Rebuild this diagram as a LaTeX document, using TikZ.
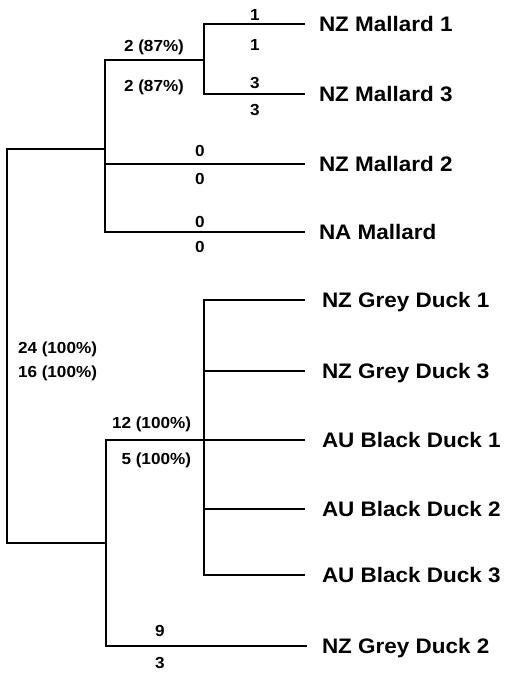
\documentclass[tikz,border=0pt]{standalone}
\usepackage{fontspec}
\setmainfont{Liberation Sans}
\newfontfamily\labfont[FakeStretch=1.07]{Liberation Sans}
\begin{document}
\begin{tikzpicture}[x=1pt,y=-1pt,line width=2pt,
  tiplab/.style={anchor=base west,inner sep=0pt,font=\fontsize{21}{21}\selectfont\labfont\bfseries},
  brlab/.style={anchor=base,inner sep=0pt,font=\fontsize{16}{16}\selectfont\labfont\bfseries},
  branch/.style={line width=2pt,line join=miter}]
\useasboundingbox (0,0) rectangle (508,673);
% tree nodes
\coordinate (R) at (7,149);
\coordinate (A) at (105,149);
\coordinate (C) at (106,543);
\coordinate (B) at (204,60);
\coordinate (D) at (204,440);
% tip ends
\coordinate (e1) at (305,24);
\coordinate (e2) at (305,94);
\coordinate (e3) at (305,164);
\coordinate (e4) at (305,232);
\coordinate (e5) at (305,300);
\coordinate (e6) at (305,371);
\coordinate (e7) at (305,440);
\coordinate (e8) at (305,509);
\coordinate (e9) at (305,575);
\coordinate (e10) at (307,646);
% branches
\draw[branch] (A) -- (R) -- (R |- C) -- (C);
\draw[branch] (B) -- (A |- B) -- (A |- e4) -- (e4);
\draw[branch] (A |- e3) -- (e3);
\draw[branch] (e1) -- (B |- e1) -- (B |- e2) -- (e2);
\draw[branch] (e5) -- (D |- e5) -- (D |- e9) -- (e9);
\draw[branch] (D |- e6) -- (e6);
\draw[branch] (D |- e8) -- (e8);
\draw[branch] (e7) -- (C |- D) -- (C |- e10) -- (e10);
% tip labels
\node[tiplab] (m1) at (318,31) {NZ Mallard 1};
\node[tiplab] (m3) at (318,101) {NZ Mallard 3};
\node[tiplab] (m2) at (318,171) {NZ Mallard 2};
\node[tiplab] (na) at (318,239) {NA Mallard};
\node[tiplab] (g1) at (321,307) {NZ Grey Duck 1};
\node[tiplab] (g3) at (321,378) {NZ Grey Duck 3};
\node[tiplab] (b1) at (321,447) {AU Black Duck 1};
\node[tiplab] (b2) at (321,516) {AU Black Duck 2};
\node[tiplab] (b3) at (321,582) {AU Black Duck 3};
\node[tiplab] (g2) at (321,653) {NZ Grey Duck 2};
% branch labels
\node[brlab] (l1a) at (255,20) {1};
\node[brlab] (l1b) at (255,50) {1};
\node[brlab] (l3a) at (255,88) {3};
\node[brlab] (l3b) at (255,115) {3};
\node[brlab] (lBa) at (154,51) {2 (87\%)};
\node[brlab] (lBb) at (154,91) {2 (87\%)};
\node[brlab] (l2a) at (200,156) {0};
\node[brlab] (l2b) at (200,184) {0};
\node[brlab] (lNa) at (200,227) {0};
\node[brlab] (lNb) at (200,252) {0};
\node[brlab,anchor=base west] (lRa) at (17,353) {24 (100\%)};
\node[brlab,anchor=base west] (lRb) at (17,377) {16 (100\%)};
\node[brlab,anchor=base east] (lDa) at (192,428) {12 (100\%)};
\node[brlab,anchor=base east] (lDb) at (192,464) {5 (100\%)};
\node[brlab] (lGa) at (160,636) {9};
\node[brlab] (lGb) at (160,668) {3};
\end{tikzpicture}
\end{document}
